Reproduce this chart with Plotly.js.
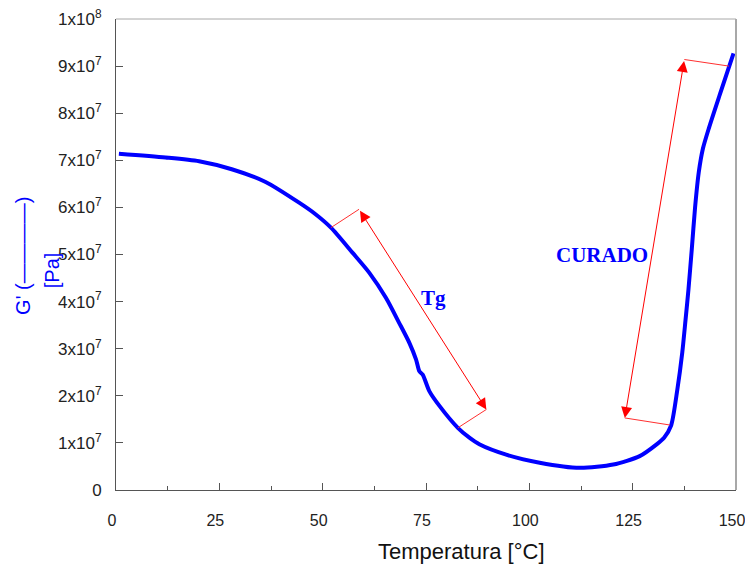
<!DOCTYPE html>
<html>
<head>
<meta charset="utf-8">
<script src="https://cdn.plot.ly/plotly-3.0.1.min.js"></script>
<style>html,body{margin:0;padding:0;background:#fff;}#chart{width:745px;height:567px;}</style>
</head>
<body>
<div id="chart"></div>
<script>
// Temperature [°C]
const temperature = [0.7, 12.0, 20.1, 28.0, 36.2, 44.3, 48.2, 52.0, 57.2, 61.3, 65.3, 68.5, 71.0, 72.6, 73.4, 74.2, 75.8, 78.3, 82.7, 85.5, 87.9, 94.4, 102.5, 112.2, 120.3, 126.7, 130.8, 132.6, 134.3, 135.8, 137.0, 137.8, 138.5, 139.3, 140.1, 141.0, 142.0, 143.5, 146.1, 149.4];
// Storage modulus G' [Pa]
const storageModulus = [7.14e7, 7.06e7, 6.98e7, 6.81e7, 6.54e7, 6.10e7, 5.86e7, 5.57e7, 5.04e7, 4.61e7, 4.08e7, 3.55e7, 3.12e7, 2.77e7, 2.52e7, 2.45e7, 2.10e7, 1.78e7, 1.32e7, 1.11e7, 0.97e7, 0.75e7, 0.58e7, 0.47e7, 0.54e7, 0.72e7, 0.97e7, 1.11e7, 1.37e7, 2.13e7, 2.92e7, 3.62e7, 4.26e7, 5.11e7, 6.00e7, 6.75e7, 7.25e7, 7.70e7, 8.40e7, 9.27e7];

const xTickVals = [0, 25, 50, 75, 100, 125, 150];
const xTickText = ['0', '25', '50', '75', '100', '125', '150'];
const yTickVals = [0, 1e7, 2e7, 3e7, 4e7, 5e7, 6e7, 7e7, 8e7, 9e7, 1e8];
const yTickText = ['0', '1x10<sup>7</sup>', '2x10<sup>7</sup>', '3x10<sup>7</sup>', '4x10<sup>7</sup>', '5x10<sup>7</sup>', '6x10<sup>7</sup>', '7x10<sup>7</sup>', '8x10<sup>7</sup>', '9x10<sup>7</sup>', '1x10<sup>8</sup>'];

// Annotated ranges: [temperature, modulus] of arrow tips and bracket feet on the curve
const tgArrowStart = [58.8, 5.96e7];
const tgArrowEnd = [89.6, 1.71e7];
const tgFootStart = [52.0, 5.57e7];
const tgFootEnd = [82.7, 1.32e7];
const curadoArrowStart = [137.5, 9.14e7];
const curadoArrowEnd = [123.1, 1.53e7];
const curadoFootStart = [148.3, 9.00e7];
const curadoFootEnd = [134.0, 1.38e7];
const tgLabel = ['Tg', 76.7, 4.08e7];
const curadoLabel = ['CURADO', 117.6, 5.0e7];

const trace = {
  x: temperature, y: storageModulus, type: 'scatter', mode: 'lines',
  line: {color: '#0000ff', width: 4, shape: 'spline', smoothing: 0.7},
  hoverinfo: 'skip'
};

function arrow(a, b) {
  return {x: b[0], y: b[1], ax: a[0], ay: a[1], xref: 'x', yref: 'y', axref: 'x', ayref: 'y',
    text: '', showarrow: true, arrowside: 'end+start', arrowhead: 2, startarrowhead: 2,
    arrowsize: 2.2, startarrowsize: 2.2, arrowwidth: 1, arrowcolor: '#ff0000'};
}
function foot(a, b) {
  return {type: 'line', xref: 'x', yref: 'y', x0: a[0], y0: a[1], x1: b[0], y1: b[1],
    line: {color: '#ff3030', width: 1}};
}
const serifBold = {family: 'Liberation Serif, Times New Roman, serif', size: 21, color: '#0000ff'};

const layout = {
  width: 745, height: 567,
  margin: {l: 116, r: 9, t: 19, b: 77},
  paper_bgcolor: '#fff', plot_bgcolor: '#fff',
  showlegend: false,
  font: {family: 'Liberation Sans, Arial, sans-serif', size: 16, color: '#222'},
  xaxis: {
    range: [0, 150], tickvals: xTickVals, ticktext: xTickText,
    ticks: 'inside', ticklen: 7, tickcolor: '#555', tickwidth: 1,
    minor: {dtick: 12.5, tick0: 0, ticks: 'inside', ticklen: 4, tickcolor: '#555'},
    showline: true, linecolor: '#555', linewidth: 1, showgrid: false, zeroline: false,
    ticklabelstandoff: 16, ticklabelshift: -4, ticklabeloverflow: 'allow', tickfont: {size: 16}
  },
  yaxis: {
    range: [0, 1e8], tickvals: yTickVals, ticktext: yTickText,
    ticks: 'inside', ticklen: 7, tickcolor: '#555', tickwidth: 1,
    showline: true, linecolor: '#555', linewidth: 1, showgrid: false, zeroline: false,
    ticklabelstandoff: 10, tickfont: {size: 17}
  },
  shapes: [
    {type: 'line', xref: 'paper', yref: 'paper', x0: 0, y0: 1, x1: 1, y1: 1, line: {color: '#a8a8a8', width: 1}},
    {type: 'line', xref: 'paper', yref: 'paper', x0: 1, y0: 0, x1: 1, y1: 1, line: {color: '#a8a8a8', width: 2}},
    foot(tgFootStart, tgArrowStart), foot(tgFootEnd, tgArrowEnd),
    foot(curadoFootStart, curadoArrowStart), foot(curadoFootEnd, curadoArrowEnd)
  ],
  annotations: [
    arrow(tgArrowStart, tgArrowEnd),
    arrow(curadoArrowStart, curadoArrowEnd),
    {x: tgLabel[1], y: tgLabel[2], xref: 'x', yref: 'y', text: '<b>' + tgLabel[0] + '</b>', showarrow: false, font: serifBold},
    {x: curadoLabel[1], y: curadoLabel[2], xref: 'x', yref: 'y', text: '<b>' + curadoLabel[0] + '</b>', showarrow: false, font: serifBold},
    {x: 0.558, y: -0.13, xref: 'paper', yref: 'paper', xanchor: 'center', yanchor: 'middle',
     text: 'Temperatura [°C]', showarrow: false, font: {size: 22, color: '#111'}},
    {x: -0.150, y: 0.497, xref: 'paper', yref: 'paper', xanchor: 'center', yanchor: 'middle', textangle: -90,
     text: "G' (————)", showarrow: false, font: {size: 20, color: '#0000ff'}},
    {x: -0.103, y: 0.467, xref: 'paper', yref: 'paper', xanchor: 'center', yanchor: 'middle', textangle: -90,
     text: '[Pa]', showarrow: false, font: {size: 20, color: '#0000ff'}}
  ]
};

Plotly.newPlot('chart', [trace], layout, {staticPlot: true, displayModeBar: false});
</script>
</body>
</html>
